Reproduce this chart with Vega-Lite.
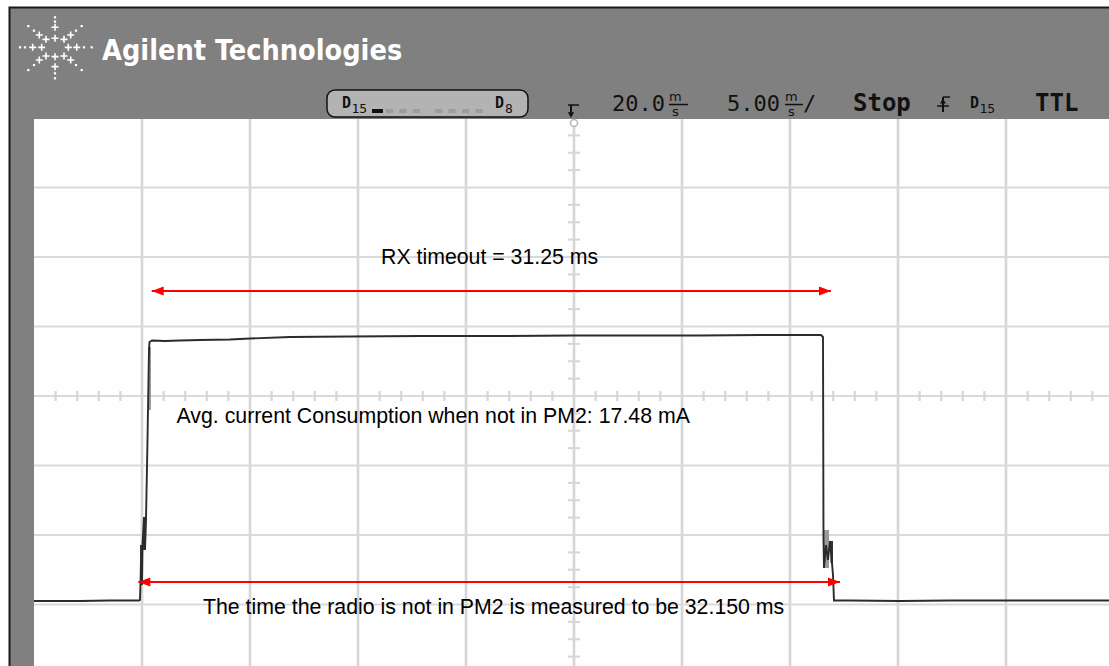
{
  "$schema": "https://vega.github.io/schema/vega-lite/v6.json",
  "width": 1109,
  "height": 666,
  "autosize": {"type": "none"},
  "padding": 0,
  "background": "#ffffff",
  "config": {"view": {"stroke": null}},
  "encoding": {
    "x": {"field": "t", "type": "quantitative", "scale": {"domain": [-6.574, 44.769], "nice": false, "zero": false}, "axis": null},
    "y": {"field": "v", "type": "quantitative", "scale": {"domain": [-3.885, 5.698], "nice": false, "zero": false}, "axis": null}
  },
  "layer": [
    {
      "data": {"values": [{"t": -6.181, "t2": 44.769, "v": 5.604, "v2": -3.885}]},
      "mark": {"type": "rect", "fill": "#1a1a1a"},
      "encoding": {"x2": {"field": "t2"}, "y2": {"field": "v2"}}
    },
    {
      "data": {"values": [{"t": -6.088, "t2": 44.769, "v": 5.576, "v2": -3.885}]},
      "mark": {"type": "rect", "fill": "#808080"},
      "encoding": {"x2": {"field": "t2"}, "y2": {"field": "v2"}}
    },
    {
      "data": {"values": [{"t": -5, "t2": 44.769, "v": 3.985, "v2": -3.885}]},
      "mark": {"type": "rect", "fill": "#fefefe"},
      "encoding": {"x2": {"field": "t2"}, "y2": {"field": "v2"}}
    },
    {
      "data": {"values": [
        {"t": 0, "v": 3.985, "v2": -3.885}, {"t": 5, "v": 3.985, "v2": -3.885}, {"t": 10, "v": 3.985, "v2": -3.885},
        {"t": 15, "v": 3.985, "v2": -3.885}, {"t": 20, "v": 3.985, "v2": -3.885}, {"t": 25, "v": 3.985, "v2": -3.885},
        {"t": 30, "v": 3.985, "v2": -3.885}, {"t": 35, "v": 3.985, "v2": -3.885}, {"t": 40, "v": 3.985, "v2": -3.885}
      ]},
      "mark": {"type": "rule", "color": "#d6d6d6", "strokeWidth": 2.6},
      "encoding": {"y2": {"field": "v2"}}
    },
    {
      "data": {"values": [
        {"v": 3, "t": -5, "t2": 44.769}, {"v": 2, "t": -5, "t2": 44.769}, {"v": 1, "t": -5, "t2": 44.769},
        {"v": 0, "t": -5, "t2": 44.769}, {"v": -1, "t": -5, "t2": 44.769}, {"v": -2, "t": -5, "t2": 44.769},
        {"v": -3, "t": -5, "t2": 44.769}
      ]},
      "mark": {"type": "rule", "color": "#d9d9d9", "strokeWidth": 2},
      "encoding": {"x2": {"field": "t2"}}
    },
    {
      "data": {"values": [
        {"t": -4, "v": 0.072, "v2": -0.072}, {"t": -3, "v": 0.072, "v2": -0.072}, {"t": -2, "v": 0.072, "v2": -0.072}, {"t": -1, "v": 0.072, "v2": -0.072},
        {"t": 1, "v": 0.072, "v2": -0.072}, {"t": 2, "v": 0.072, "v2": -0.072}, {"t": 3, "v": 0.072, "v2": -0.072}, {"t": 4, "v": 0.072, "v2": -0.072},
        {"t": 6, "v": 0.072, "v2": -0.072}, {"t": 7, "v": 0.072, "v2": -0.072}, {"t": 8, "v": 0.072, "v2": -0.072}, {"t": 9, "v": 0.072, "v2": -0.072},
        {"t": 11, "v": 0.072, "v2": -0.072}, {"t": 12, "v": 0.072, "v2": -0.072}, {"t": 13, "v": 0.072, "v2": -0.072}, {"t": 14, "v": 0.072, "v2": -0.072},
        {"t": 16, "v": 0.072, "v2": -0.072}, {"t": 17, "v": 0.072, "v2": -0.072}, {"t": 18, "v": 0.072, "v2": -0.072}, {"t": 19, "v": 0.072, "v2": -0.072},
        {"t": 21, "v": 0.072, "v2": -0.072}, {"t": 22, "v": 0.072, "v2": -0.072}, {"t": 23, "v": 0.072, "v2": -0.072}, {"t": 24, "v": 0.072, "v2": -0.072},
        {"t": 26, "v": 0.072, "v2": -0.072}, {"t": 27, "v": 0.072, "v2": -0.072}, {"t": 28, "v": 0.072, "v2": -0.072}, {"t": 29, "v": 0.072, "v2": -0.072},
        {"t": 31, "v": 0.072, "v2": -0.072}, {"t": 32, "v": 0.072, "v2": -0.072}, {"t": 33, "v": 0.072, "v2": -0.072}, {"t": 34, "v": 0.072, "v2": -0.072},
        {"t": 36, "v": 0.072, "v2": -0.072}, {"t": 37, "v": 0.072, "v2": -0.072}, {"t": 38, "v": 0.072, "v2": -0.072}, {"t": 39, "v": 0.072, "v2": -0.072},
        {"t": 41, "v": 0.072, "v2": -0.072}, {"t": 42, "v": 0.072, "v2": -0.072}, {"t": 43, "v": 0.072, "v2": -0.072}, {"t": 44, "v": 0.072, "v2": -0.072}
      ]},
      "mark": {"type": "rule", "color": "#d6d6d6", "strokeWidth": 2.2},
      "encoding": {"y2": {"field": "v2"}}
    },
    {
      "data": {"values": [
        {"v": 3.75, "t": 19.722, "t2": 20.278}, {"v": 3.5, "t": 19.722, "t2": 20.278}, {"v": 3.25, "t": 19.722, "t2": 20.278},
        {"v": 2.75, "t": 19.722, "t2": 20.278}, {"v": 2.5, "t": 19.722, "t2": 20.278}, {"v": 2.25, "t": 19.722, "t2": 20.278},
        {"v": 1.75, "t": 19.722, "t2": 20.278}, {"v": 1.5, "t": 19.722, "t2": 20.278}, {"v": 1.25, "t": 19.722, "t2": 20.278},
        {"v": 0.75, "t": 19.722, "t2": 20.278}, {"v": 0.5, "t": 19.722, "t2": 20.278}, {"v": 0.25, "t": 19.722, "t2": 20.278},
        {"v": -0.25, "t": 19.722, "t2": 20.278}, {"v": -0.5, "t": 19.722, "t2": 20.278}, {"v": -0.75, "t": 19.722, "t2": 20.278},
        {"v": -1.25, "t": 19.722, "t2": 20.278}, {"v": -1.5, "t": 19.722, "t2": 20.278}, {"v": -1.75, "t": 19.722, "t2": 20.278},
        {"v": -2.25, "t": 19.722, "t2": 20.278}, {"v": -2.5, "t": 19.722, "t2": 20.278}, {"v": -2.75, "t": 19.722, "t2": 20.278},
        {"v": -3.25, "t": 19.722, "t2": 20.278}, {"v": -3.5, "t": 19.722, "t2": 20.278}, {"v": -3.75, "t": 19.722, "t2": 20.278}
      ]},
      "mark": {"type": "rule", "color": "#d6d6d6", "strokeWidth": 2},
      "encoding": {"x2": {"field": "t2"}}
    },
    {
      "data": {"values": [{"t": 20, "v": 3.928}]},
      "mark": {"type": "point", "shape": "circle", "size": 50, "filled": false, "stroke": "#b8b8b8", "fill": "#ffffff", "fillOpacity": 1, "strokeWidth": 1.5, "opacity": 1}
    },
    {
      "data": {"values": [
        {"t": 0.278, "t2": 0.417, "v": 0.705, "v2": -0.201},
        {"t": 31.528, "t2": 31.806, "v": -1.928, "v2": -2.475}
      ]},
      "mark": {"type": "rect", "fill": "#9a9a9a"},
      "encoding": {"x2": {"field": "t2"}, "y2": {"field": "v2"}}
    },
    {
      "data": {"values": [
        {"t": 0.046, "t2": 0.185, "v": -1.741, "v2": -2.216},
        {"t": -0.093, "t2": 0.0, "v": -2.144, "v2": -2.691},
        {"t": 31.875, "t2": 31.991, "v": -2.086, "v2": -2.403}
      ]},
      "mark": {"type": "rect", "fill": "#333333"},
      "encoding": {"x2": {"field": "t2"}, "y2": {"field": "v2"}}
    },
    {
      "data": {"values": [
        {"t": -5.0, "v": -2.95}, {"t": -2.87, "v": -2.95}, {"t": -1.481, "v": -2.942}, {"t": -0.139, "v": -2.942},
        {"t": -0.093, "v": -2.935}, {"t": -0.069, "v": -2.691}, {"t": -0.046, "v": -2.36}, {"t": 0.0, "v": -2.719},
        {"t": 0.023, "v": -2.144}, {"t": 0.093, "v": -1.741}, {"t": 0.139, "v": -2.216}, {"t": 0.185, "v": -1.784},
        {"t": 0.255, "v": -0.633}, {"t": 0.324, "v": 0.662}, {"t": 0.347, "v": 0.777}, {"t": 0.463, "v": 0.799},
        {"t": 1.065, "v": 0.791}, {"t": 1.759, "v": 0.799}, {"t": 2.685, "v": 0.806}, {"t": 4.074, "v": 0.813},
        {"t": 5.0, "v": 0.827}, {"t": 6.852, "v": 0.849}, {"t": 9.63, "v": 0.856}, {"t": 12.87, "v": 0.863},
        {"t": 16.574, "v": 0.863}, {"t": 20.0, "v": 0.871}, {"t": 23.519, "v": 0.871}, {"t": 25.833, "v": 0.871},
        {"t": 28.611, "v": 0.878}, {"t": 30.463, "v": 0.878}, {"t": 31.435, "v": 0.878}, {"t": 31.528, "v": 0.849},
        {"t": 31.551, "v": -2.072}, {"t": 31.574, "v": -2.475}, {"t": 31.667, "v": -2.144}, {"t": 31.759, "v": -2.36},
        {"t": 31.852, "v": -2.086}, {"t": 31.944, "v": -2.403}, {"t": 31.991, "v": -2.576}, {"t": 32.037, "v": -2.942},
        {"t": 32.778, "v": -2.942}, {"t": 35.093, "v": -2.95}, {"t": 37.407, "v": -2.942}, {"t": 39.722, "v": -2.942},
        {"t": 42.037, "v": -2.942}, {"t": 44.769, "v": -2.942}
      ]},
      "mark": {"type": "line", "color": "#2b2b2b", "strokeWidth": 1.9}
    },
    {
      "data": {"values": [
        {"t": 0.449, "t2": 31.898, "v": 1.511},
        {"t": -0.171, "t2": 32.315, "v": -2.676}
      ]},
      "mark": {"type": "rule", "color": "#ff0000", "strokeWidth": 2},
      "encoding": {"x2": {"field": "t2"}}
    },
    {
      "data": {"values": [{"t": 0.449, "v": 1.511}, {"t": -0.171, "v": -2.676}]},
      "mark": {"type": "point", "shape": "M0,0L2,-0.75L2,0.75Z", "size": 144, "filled": true, "color": "#ff0000", "opacity": 1}
    },
    {
      "data": {"values": [{"t": 31.898, "v": 1.511}, {"t": 32.315, "v": -2.676}]},
      "mark": {"type": "point", "shape": "M0,0L-2,-0.75L-2,0.75Z", "size": 144, "filled": true, "color": "#ff0000", "opacity": 1}
    },
    {
      "data": {"values": [
        {"t": 11.065, "v": 1.899, "label": "RX timeout = 31.25 ms"},
        {"t": 1.597, "v": -0.388, "label": "Avg. current Consumption when not in PM2: 17.48 mA"},
        {"t": 2.824, "v": -3.137, "label": "The time the radio is not in PM2 is measured to be 32.150 ms"}
      ]},
      "mark": {"type": "text", "font": "Liberation Sans", "fontSize": 21.3, "align": "left", "baseline": "alphabetic", "color": "#000000"},
      "encoding": {"text": {"field": "label"}}
    },
    {
      "data": {"values": [
        {"t": -5.06, "v": 5.017}, {"t": -4.644, "v": 5.017}, {"t": -3.412, "v": 5.017}, {"t": -3.023, "v": 5.017},
        {"t": -4.028, "v": 5.305}, {"t": -4.028, "v": 5.147}, {"t": -4.028, "v": 4.883}, {"t": -4.028, "v": 4.739},
        {"t": -4.755, "v": 5.194}, {"t": -4.445, "v": 5.132}, {"t": -3.611, "v": 5.132}, {"t": -3.301, "v": 5.194},
        {"t": -4.755, "v": 4.834}, {"t": -4.445, "v": 4.892}, {"t": -3.611, "v": 4.892}, {"t": -3.301, "v": 4.834}
      ]},
      "mark": {"type": "point", "shape": "M-1,0H1M0,-1V1", "size": 49, "filled": false, "stroke": "#ffffff", "strokeWidth": 1.6, "opacity": 1}
    },
    {
      "data": {"values": [
        {"t": -5.648, "v": 5.017}, {"t": -5.417, "v": 5.017}, {"t": -2.685, "v": 5.017}, {"t": -2.329, "v": 5.017},
        {"t": -4.028, "v": 5.449}, {"t": -4.028, "v": 5.387}, {"t": -4.028, "v": 4.643}, {"t": -4.028, "v": 4.571},
        {"t": -5.264, "v": 5.323}, {"t": -5.0, "v": 5.257}, {"t": -3.056, "v": 5.257}, {"t": -2.792, "v": 5.323},
        {"t": -5.0, "v": 4.762}, {"t": -5.264, "v": 4.69}, {"t": -3.056, "v": 4.762}, {"t": -2.792, "v": 4.69}
      ]},
      "mark": {"type": "point", "shape": "square", "size": 5, "filled": true, "color": "#ffffff", "opacity": 1}
    },
    {
      "data": {"values": [{"t": -1.852, "v": 4.835, "label": "Agilent Technologies"}]},
      "mark": {"type": "text", "font": "DejaVu Sans Condensed, DejaVu Sans", "fontWeight": "bold", "fontSize": 28.6, "align": "left", "baseline": "alphabetic", "color": "#ffffff"},
      "encoding": {"text": {"field": "label"}}
    },
    {
      "data": {"values": [{"t": 8.565, "t2": 17.87, "v": 4.403, "v2": 4.014}]},
      "mark": {"type": "rect", "fill": "#b3b3b3", "stroke": "#111111", "strokeWidth": 1.5, "cornerRadius": 8},
      "encoding": {"x2": {"field": "t2"}, "y2": {"field": "v2"}}
    },
    {
      "data": {"values": [{"t": 10.648, "t2": 11.157, "v": 4.1295, "v2": 4.0719}]},
      "mark": {"type": "rect", "fill": "#111111"},
      "encoding": {"x2": {"field": "t2"}, "y2": {"field": "v2"}}
    },
    {
      "data": {"values": [
        {"t": 11.296, "t2": 11.634, "v": 4.1295, "v2": 4.0719},
        {"t": 11.921, "t2": 12.259, "v": 4.1295, "v2": 4.0719},
        {"t": 12.546, "t2": 12.884, "v": 4.1295, "v2": 4.0719},
        {"t": 13.565, "t2": 13.903, "v": 4.1295, "v2": 4.0719},
        {"t": 14.19, "t2": 14.528, "v": 4.1295, "v2": 4.0719},
        {"t": 14.815, "t2": 15.153, "v": 4.1295, "v2": 4.0719},
        {"t": 15.44, "t2": 15.778, "v": 4.1295, "v2": 4.0719}
      ]},
      "mark": {"type": "rect", "fill": "#9c9c9c"},
      "encoding": {"x2": {"field": "t2"}, "y2": {"field": "v2"}}
    },
    {
      "data": {"values": [
        {"t": 9.259, "v": 4.144, "label": "D"},
        {"t": 16.343, "v": 4.144, "label": "D"},
        {"t": 38.333, "v": 4.144, "label": "D"}
      ]},
      "mark": {"type": "text", "font": "DejaVu Sans Mono", "fontWeight": "bold", "fontSize": 15, "align": "left", "baseline": "alphabetic", "color": "#111111"},
      "encoding": {"text": {"field": "label"}}
    },
    {
      "data": {"values": [
        {"t": 9.7, "v": 4.072, "label": "15"},
        {"t": 16.806, "v": 4.072, "label": "8"},
        {"t": 38.77, "v": 4.072, "label": "15"}
      ]},
      "mark": {"type": "text", "font": "DejaVu Sans Mono", "fontSize": 13, "align": "left", "baseline": "alphabetic", "color": "#111111"},
      "encoding": {"text": {"field": "label"}}
    },
    {
      "data": {"values": [
        {"t": 21.759, "v": 4.094, "label": "20.0"},
        {"t": 27.083, "v": 4.094, "label": "5.00"},
        {"t": 30.602, "v": 4.094, "label": "/"}
      ]},
      "mark": {"type": "text", "font": "DejaVu Sans Mono", "fontSize": 22, "align": "left", "baseline": "alphabetic", "color": "#111111"},
      "encoding": {"text": {"field": "label"}}
    },
    {
      "data": {"values": [
        {"t": 24.398, "v": 4.245, "label": "m"},
        {"t": 29.769, "v": 4.245, "label": "m"},
        {"t": 24.537, "v": 4.03, "label": "s"},
        {"t": 29.907, "v": 4.03, "label": "s"}
      ]},
      "mark": {"type": "text", "font": "DejaVu Sans", "fontSize": 13, "align": "left", "baseline": "alphabetic", "color": "#111111"},
      "encoding": {"text": {"field": "label"}}
    },
    {
      "data": {"values": [
        {"t": 32.917, "v": 4.094, "label": "Stop"},
        {"t": 41.343, "v": 4.094, "label": "TTL"}
      ]},
      "mark": {"type": "text", "font": "DejaVu Sans Mono", "fontWeight": "bold", "fontSize": 24, "align": "left", "baseline": "alphabetic", "color": "#111111"},
      "encoding": {"text": {"field": "label"}}
    },
    {
      "data": {"values": [
        {"t": 24.398, "t2": 25.278, "v": 4.194},
        {"t": 29.769, "t2": 30.602, "v": 4.194},
        {"t": 19.722, "t2": 20.231, "v": 4.187},
        {"t": 36.806, "t2": 37.361, "v": 4.173},
        {"t": 37.083, "t2": 37.407, "v": 4.302}
      ]},
      "mark": {"type": "rule", "color": "#111111", "strokeWidth": 1.5},
      "encoding": {"x2": {"field": "t2"}}
    },
    {
      "data": {"values": [
        {"t": 19.861, "v": 4.187, "v2": 4.072},
        {"t": 37.083, "v": 4.302, "v2": 4.086}
      ]},
      "mark": {"type": "rule", "color": "#111111", "strokeWidth": 2},
      "encoding": {"y2": {"field": "v2"}}
    },
    {
      "data": {"values": [{"t": 19.861, "v": 4.043}]},
      "mark": {"type": "point", "shape": "triangle-down", "size": 40, "filled": true, "color": "#111111", "opacity": 1}
    },
    {
      "data": {"values": [{"t": 37.083, "v": 4.245}]},
      "mark": {"type": "point", "shape": "triangle-up", "size": 35, "filled": true, "color": "#111111", "opacity": 1}
    }
  ]
}
